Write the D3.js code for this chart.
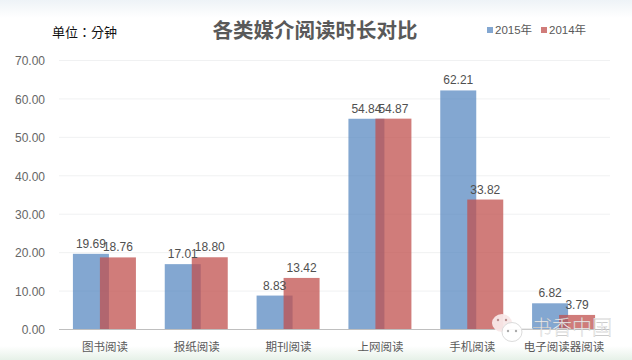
<!DOCTYPE html>
<html>
<head>
<meta charset="utf-8">
<script src="https://cdn.jsdelivr.net/npm/d3@7"></script>
<style>
  html, body { margin: 0; padding: 0; background: #fff; }
  svg { display: block; }
  text { font-family: "Liberation Sans", "Noto Sans CJK SC", sans-serif; }
</style>
</head>
<body>
<svg id="chart" width="632" height="360"></svg>
<script>
const categories = ["图书阅读", "报纸阅读", "期刊阅读", "上网阅读", "手机阅读", "电子阅读器阅读"];
const seriesNames = ["2015年", "2014年"];
const values2015 = [19.69, 17.01, 8.83, 54.84, 62.21, 6.82];
const values2014 = [18.76, 18.80, 13.42, 54.87, 33.82, 3.79];
const yTicks = [0, 10, 20, 30, 40, 50, 60, 70];

const svg = d3.select("#chart");
const barWidth = 36;

const xScale = d3.scaleBand().domain(categories).range([59, 610]);
// left edge of each series bar, relative to the band centre
const seriesOffset = d3.scalePoint().domain(seriesNames).range([-32, -5]);
const yScale = d3.scaleLinear().domain([0, 70]).range([329.5, 60.5]);

const colors = d3.scaleOrdinal().domain(seriesNames).range(["#4F81BD", "#C0504D"]);
const opacities = d3.scaleOrdinal().domain(seriesNames).range([0.7, 0.75]);

// page background: pale sky on top, pale green at the bottom
const defs = svg.append("defs");
const topFade = defs.append("linearGradient").attr("id", "topFade").attr("x2", 0).attr("y2", 1);
topFade.append("stop").attr("offset", 0).attr("stop-color", "#eef3f7");
topFade.append("stop").attr("offset", 1).attr("stop-color", "#ffffff");
const bottomFade = defs.append("linearGradient").attr("id", "bottomFade").attr("x2", 0).attr("y2", 1);
bottomFade.append("stop").attr("offset", 0).attr("stop-color", "#ffffff");
bottomFade.append("stop").attr("offset", 1).attr("stop-color", "#e6f1e8");

svg.append("rect").attr("width", 632).attr("height", 18).attr("fill", "url(#topFade)");
svg.append("rect").attr("y", 346).attr("width", 632).attr("height", 14).attr("fill", "url(#bottomFade)");

// grid
svg.append("g")
  .selectAll("line")
  .data(yTicks.filter(d => d > 0))
  .join("line")
  .attr("x1", 59)
  .attr("x2", 610)
  .attr("y1", d => yScale(d))
  .attr("y2", d => yScale(d))
  .attr("stroke", "#f0f1f2");

// y axis labels
const yAxis = d3.axisLeft(yScale).tickValues(yTicks).tickFormat(d => d.toFixed(2)).tickSize(0).tickPadding(14);
const yAxisG = svg.append("g").attr("transform", "translate(59,0.5)").call(yAxis);
yAxisG.select(".domain").remove();
yAxisG.selectAll("text").attr("font-size", 12).attr("fill", "#666")
  .style("font-family", '"Liberation Sans", sans-serif');

// bars
const allSeries = [
  { name: seriesNames[0], values: values2015 },
  { name: seriesNames[1], values: values2014 }
];

allSeries.forEach(s => {
  svg.append("g")
    .selectAll("rect")
    .data(s.values)
    .join("rect")
    .attr("x", (d, i) => xScale(categories[i]) + xScale.bandwidth() / 2 + seriesOffset(s.name))
    .attr("y", d => yScale(d))
    .attr("width", barWidth)
    .attr("height", d => yScale(0) - yScale(d))
    .attr("fill", colors(s.name))
    .attr("fill-opacity", opacities(s.name));
});

// baseline
svg.append("line")
  .attr("x1", 59)
  .attr("x2", 610)
  .attr("y1", yScale(0))
  .attr("y2", yScale(0))
  .attr("stroke", "#bfbfbf");

// value labels
allSeries.forEach(s => {
  svg.append("g")
    .selectAll("text")
    .data(s.values)
    .join("text")
    .attr("x", (d, i) => xScale(categories[i]) + xScale.bandwidth() / 2 + seriesOffset(s.name) + barWidth / 2)
    .attr("y", d => yScale(d) - 6)
    .attr("text-anchor", "middle")
    .attr("font-size", 12)
    .attr("fill", "#505050")
    .text(d => d.toFixed(2));
});

// x axis labels
const xAxis = d3.axisBottom(xScale).tickSize(0).tickPadding(13);
const xAxisG = svg.append("g").attr("transform", "translate(0,329.5)").call(xAxis);
xAxisG.select(".domain").remove();
xAxisG.selectAll("text").attr("font-size", 11.5).attr("fill", "#595959")
  .style("font-family", '"Noto Sans CJK SC", sans-serif');

// title and unit
svg.append("text")
  .attr("x", 315)
  .attr("y", 38)
  .attr("text-anchor", "middle")
  .attr("font-size", 20.5)
  .attr("font-weight", "bold")
  .attr("fill", "#595959")
  .style("font-family", '"Noto Sans CJK SC", sans-serif')
  .text("各类媒介阅读时长对比");

svg.append("text")
  .attr("x", 52)
  .attr("y", 37)
  .attr("font-size", 13)
  .attr("fill", "#111")
  .style("font-family", '"Noto Sans CJK TC", sans-serif')
  .text("单位：分钟");

// legend
const legendX = d3.scalePoint().domain(seriesNames).range([487, 541]);
const legend = svg.append("g")
  .selectAll("g")
  .data(seriesNames)
  .join("g")
  .attr("transform", d => `translate(${legendX(d)},27)`);
legend.append("rect")
  .attr("width", 6)
  .attr("height", 6)
  .attr("fill", d => colors(d))
  .attr("fill-opacity", d => opacities(d));
legend.append("text")
  .attr("x", 8)
  .attr("y", 7)
  .attr("font-size", 11.5)
  .attr("fill", "#595959")
  .text(d => d);

// watermark
const mark = svg.append("g");
mark.append("ellipse").attr("cx", 502).attr("cy", 323).attr("rx", 10).attr("ry", 9)
  .attr("fill", "#f8e8e8").attr("fill-opacity", 0.95);
mark.append("ellipse").attr("cx", 512).attr("cy", 332).attr("rx", 10).attr("ry", 9.5)
  .attr("fill", "#ffffff").attr("stroke", "#dcdcdc").attr("fill-opacity", 0.9);
mark.append("line").attr("x1", 522).attr("x2", 533).attr("y1", 329).attr("y2", 329)
  .attr("stroke", "#d8d8d8");
mark.append("g").selectAll("circle")
  .data([[498, 320, "#b98f8f"], [506, 320, "#b98f8f"], [508, 331, "#aaa"], [516, 331, "#aaa"]])
  .join("circle")
  .attr("cx", d => d[0]).attr("cy", d => d[1]).attr("r", 1.2).attr("fill", d => d[2]);
mark.append("text")
  .attr("x", 532)
  .attr("y", 335)
  .attr("font-size", 20)
  .attr("fill", "#fff")
  .attr("stroke", "#a8a8a8")
  .attr("stroke-width", 0.25)
  .attr("fill-opacity", 0.9)
  .style("font-family", '"Noto Sans CJK SC", sans-serif')
  .style("font-weight", 300)
  .text("书香中国");
</script>
</body>
</html>
